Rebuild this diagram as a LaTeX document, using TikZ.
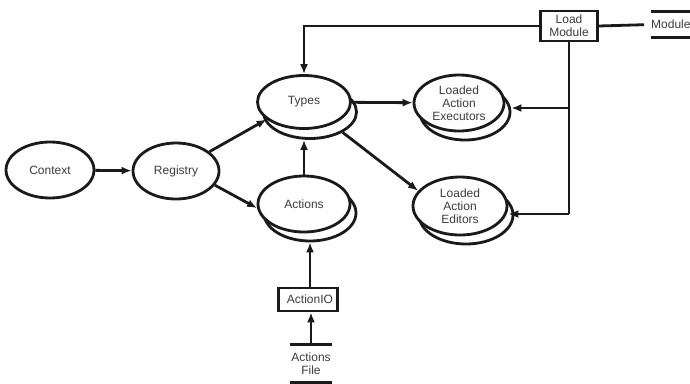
\documentclass[tikz,border=0pt]{standalone}
\usepackage{fontspec}
\setmainfont{Liberation Sans}
\usetikzlibrary{shapes.geometric,arrows.meta}

\definecolor{ink}{HTML}{1A1A1A}
\definecolor{label}{HTML}{3C3C3C}

\tikzset{
  every node/.style={font=\fontsize{12}{13}\selectfont, text=label, align=center},
  proc/.style={ellipse, draw=ink, line width=2.8pt, fill=white, inner sep=0pt},
  boxnode/.style={rectangle, draw=ink, line width=2.8pt, fill=white, inner sep=0pt},
  store/.style={inner sep=0pt},
  wire/.style={draw=ink, line width=2.8pt},
  flow/.style={wire, -{Latex[length=10pt,width=8pt]}},
}

\begin{document}
\begin{tikzpicture}[x=1pt,y=-1pt]
\useasboundingbox (0,0) rectangle (690,383);

% plain processes
\node[proc, minimum width=88pt, minimum height=56pt] (context)  at (50,170)  {Context};
\node[proc, minimum width=86pt, minimum height=56pt] (registry) at (176,171) {Registry};

% multiple-instance processes: a copy behind each one
\node[proc, minimum width=93pt, minimum height=53pt] (types-s)   at (310,112) {};
\node[proc, minimum width=93pt, minimum height=53pt] (types)     at (304,102) {Types};
\node[proc, minimum width=92pt, minimum height=56pt] (actions-s) at (310,213) {};
\node[proc, minimum width=92pt, minimum height=56pt] (actions)   at (304,204) {Actions};
\node[proc, minimum width=90pt, minimum height=56pt] (exec-s)    at (465,112) {};
\node[proc, minimum width=90pt, minimum height=56pt] (exec)      at (459,103) {Loaded\\Action\\Executors};
\node[proc, minimum width=94pt, minimum height=58pt] (editors-s) at (466,215) {};
\node[proc, minimum width=94pt, minimum height=58pt] (editors)   at (460,206) {Loaded\\Action\\Editors};

% external processes
\node[boxnode, minimum width=57pt, minimum height=30pt] (load) at (569,26)    {Load\\Module};
\node[boxnode, minimum width=59pt, minimum height=23pt] (aio)  at (308,299.5) {\hspace*{4pt}ActionIO};

% data stores
\node[store, anchor=west, minimum height=25pt, text width=40pt, align=left] (module) at (651,24.5) {Module};
\draw[wire] (module.north west) -- ++(45,0);
\draw[wire] (module.south west) -- ++(45,0);
\node[store, minimum width=42pt, minimum height=37pt] (afile) at (311,363.5) {Actions\\File};
\draw[wire] (afile.north west) -- (afile.north east);
\draw[wire] (afile.south west) -- (afile.south east);

% flows
\draw[flow] (context) -- (registry);
\draw[flow] (registry.30) -- (types.205);
\draw[flow] (registry.-20) -- (actions.185);
\draw[flow] (actions.north) -- (actions.north |- types-s.south);
\draw[flow] (types) -- (exec);
\draw[flow] (types-s.-32) -- (editors.160);
\draw[flow] (aio.north -| actions-s.south) -- (actions-s.south);
\draw[flow] (afile.north) -- (afile.north |- aio.south);

\draw[flow] (load.west) -| (types.north);
\draw[wire, shorten >=7pt] (load.east) -- (module.west);
\coordinate (j1) at (load.south |- 0,108);
\coordinate (j2) at (load.south |- 0,214);
\draw[wire] (load.south) -- (j2);
\draw[flow] (j1) -- (j1 -| exec-s.east);
\draw[flow] (j2) -- (j2 -| editors.east);
\end{tikzpicture}
\end{document}
